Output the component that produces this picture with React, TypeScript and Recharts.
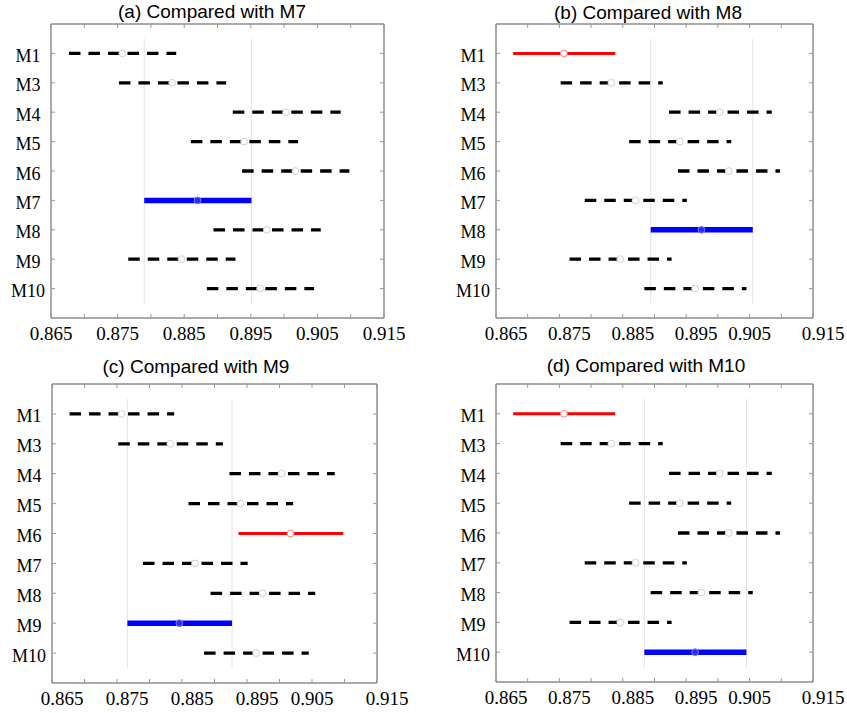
import React from 'react';
import { ComposedChart, Line, XAxis, YAxis, ReferenceLine, ReferenceArea } from 'recharts';

// ---- data ----
const models = ['M1', 'M3', 'M4', 'M5', 'M6', 'M7', 'M8', 'M9', 'M10'];
const means = [0.8757, 0.8832, 0.9003, 0.894, 0.9017, 0.887, 0.8974, 0.8846, 0.8964];
const lowers = [0.8677, 0.8752, 0.8923, 0.886, 0.8937, 0.879, 0.8894, 0.8766, 0.8884];
const uppers = [0.8838, 0.8913, 0.9085, 0.9021, 0.9098, 0.8951, 0.9055, 0.8927, 0.9045];
const xTicks = [0.865, 0.87, 0.875, 0.88, 0.885, 0.89, 0.895, 0.9, 0.905, 0.91, 0.915];
const xTickLabels = ['0.865', '0.875', '0.885', '0.895', '0.905', '0.915'];
const panelTitles = ['(a) Compared with M7', '(b) Compared with M8', '(c) Compared with M9', '(d) Compared with M10'];
const selectedModels = ['M7', 'M8', 'M9', 'M10'];
const significantModels = [[], ['M1'], ['M6'], ['M1']];

// ---- layout (positions only) ----
const layouts = [
  { px0: 51, px1: 384, py0: 24, py1: 318, titleX: 212, titleY: 17.5, labelShift: 0 },
  { px0: 496, px1: 813, py0: 24, py1: 318, titleX: 648, titleY: 19, labelShift: 10 },
  { px0: 52, px1: 377, py0: 384, py1: 683, titleX: 196, titleY: 373, labelShift: 10 },
  { px0: 496, px1: 813, py0: 384, py1: 682, titleX: 646, titleY: 372, labelShift: 10 },
];

const Y_AXIS_W = 50;
const M_TOP = 30;
const M_RIGHT = 40;
const X_AXIS_H = 40;

function Panel({ idx }: { idx: number }) {
  const L = layouts[idx];
  const pw = L.px1 - L.px0;
  const ph = L.py1 - L.py0;
  const width = pw + Y_AXIS_W + M_RIGHT;
  const height = ph + M_TOP + X_AXIS_H;
  const plotLeft = Y_AXIS_W;
  const plotRight = Y_AXIS_W + pw;
  const plotTop = M_TOP;
  const plotBottom = M_TOP + ph;
  const sel = models.indexOf(selectedModels[idx]);
  const sig = significantModels[idx];

  const XTick = (props: any) => {
    const { x, payload } = props;
    const v = payload.value;
    const k = (v - 0.865) / 0.01;
    const li = Math.round(k);
    const isLabel = Math.abs(k - li) < 1e-6;
    const label = isLabel ? xTickLabels[li] : null;
    const shift = label === '0.905' ? 0 : L.labelShift;
    return (
      <g>
        <line x1={x} x2={x} y1={plotBottom} y2={plotBottom - 4} stroke="#999" strokeWidth={1} />
        <line x1={x} x2={x} y1={plotTop} y2={plotTop + 4} stroke="#999" strokeWidth={1} />
        {label && (
          <text x={x + shift} y={plotBottom + 22} textAnchor="middle"
            fontFamily="'Liberation Serif', 'Times New Roman', serif" fontSize={19} fill="#000">
            {label}
          </text>
        )}
      </g>
    );
  };

  const YTick = (props: any) => {
    const { y, payload } = props;
    const label = models[payload.value - 1];
    return (
      <g>
        <line x1={plotLeft} x2={plotLeft + 4} y1={y} y2={y} stroke="#999" strokeWidth={1} />
        <line x1={plotRight - 4} x2={plotRight} y1={y} y2={y} stroke="#999" strokeWidth={1} />
        <text x={plotLeft - 23} y={y + 8.5} textAnchor="middle"
          fontFamily="'Liberation Serif', 'Times New Roman', serif" fontSize={18} fill="#000">
          {label}
        </text>
      </g>
    );
  };

  return (
    <div style={{ position: 'absolute', left: L.px0 - Y_AXIS_W, top: L.py0 - M_TOP, width, height }}>
      <ComposedChart width={width} height={height} margin={{ top: M_TOP, right: M_RIGHT, bottom: 0, left: 0 }}>
        <XAxis type="number" dataKey="x" domain={[0.865, 0.915]} ticks={xTicks} interval={0}
          allowDataOverflow tick={<XTick />} tickLine={false} axisLine={false} height={X_AXIS_H} />
        <YAxis type="number" dataKey="y" domain={[0, 10]} reversed ticks={[1, 2, 3, 4, 5, 6, 7, 8, 9]}
          interval={0} allowDataOverflow tick={<YTick />} tickLine={false} axisLine={false} width={Y_AXIS_W} />
        <ReferenceLine segment={[{ x: lowers[sel], y: 0.5 }, { x: lowers[sel], y: 9.5 }]}
          stroke="#e4e4e4" strokeWidth={1} />
        <ReferenceLine segment={[{ x: uppers[sel], y: 0.5 }, { x: uppers[sel], y: 9.5 }]}
          stroke="#e4e4e4" strokeWidth={1} />
        <ReferenceArea x1={0.865} x2={0.915} y1={0} y2={10} fill="none" fillOpacity={0}
          stroke="#555" strokeWidth={1} />
        {models.map((m, i) => {
          const isSel = i === sel;
          const isSig = sig.includes(m);
          const stroke = isSel ? '#0000ff' : isSig ? '#ff0000' : '#000000';
          const sw = isSel ? 5.5 : isSig ? 3 : 3.3;
          const dash = isSel || isSig ? undefined : '11.5 8';
          const mStroke = isSel ? '#8080ff' : isSig ? '#ff8080' : '#d0d0d0';
          const mFill = isSel ? '#2a2aff' : '#ffffff';
          const data = [
            { x: lowers[i], y: i + 1 },
            { x: means[i], y: i + 1 },
            { x: uppers[i], y: i + 1 },
          ];
          return (
            <Line key={m} data={data} dataKey="y" type="linear" stroke={stroke} strokeWidth={sw}
              strokeDasharray={dash} strokeLinecap="butt" isAnimationActive={false}
              activeDot={false}
              dot={(p: any) =>
                p.index === 1 ? (
                  <circle key={`d-${m}`} cx={p.cx} cy={p.cy} r={3.4} fill={mFill} stroke={mStroke} strokeWidth={1} />
                ) : (
                  <g key={`d-${m}-${p.index}`} />
                )
              } />
          );
        })}
      </ComposedChart>
    </div>
  );
}

export default function App() {
  return (
    <div style={{ position: 'absolute', left: 0, top: 0, width: 847, height: 713, background: '#fff' }}>
      {layouts.map((_, i) => (
        <Panel key={i} idx={i} />
      ))}
      <svg width={847} height={713} style={{ position: 'absolute', left: 0, top: 0, pointerEvents: 'none' }}>
        {layouts.map((L, i) => (
          <text key={i} x={L.titleX} y={L.titleY} textAnchor="middle"
            fontFamily="'Liberation Sans', Arial, sans-serif" fontSize={19} fill="#000">
            {panelTitles[i]}
          </text>
        ))}
      </svg>
    </div>
  );
}
